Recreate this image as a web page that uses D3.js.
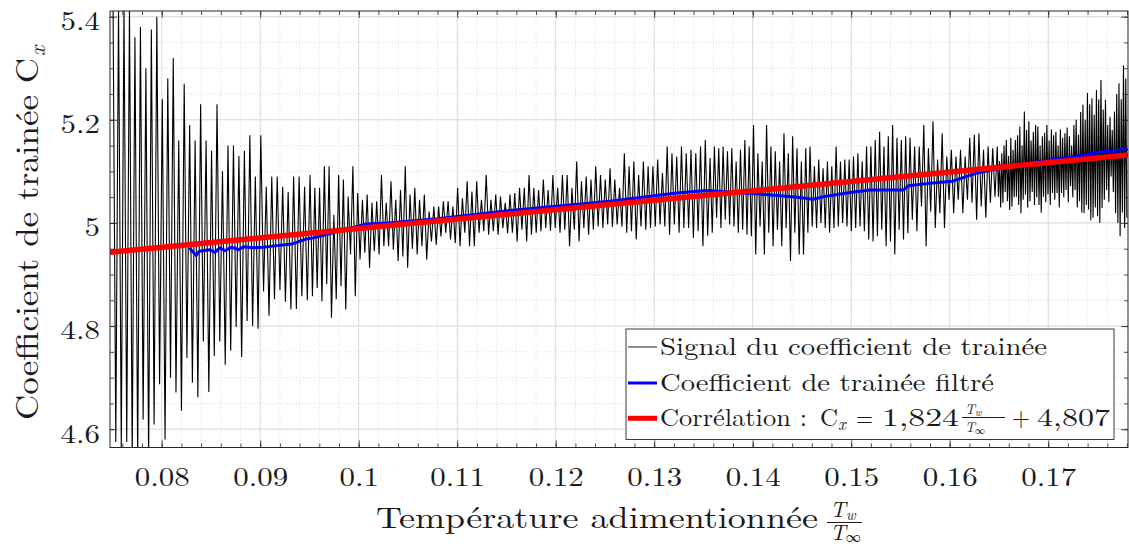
<!DOCTYPE html>
<html><head><meta charset="utf-8">
<script src="https://cdn.jsdelivr.net/npm/d3@7"></script>
<style>
body{margin:0;background:#fff}
svg{display:block}
</style></head>
<body>
<svg id="chart" width="1129" height="547"></svg>
<script>
// ---------------- DATA ----------------
const xMajorTicks = [0.08,0.09,0.10,0.11,0.12,0.13,0.14,0.15,0.16,0.17];
const xTickLabels = ["0.08","0.09","0.1","0.11","0.12","0.13","0.14","0.15","0.16","0.17"];
const yMajorTicks = [4.6,4.8,5.0,5.2,5.4];
const yTickLabels = ["4.6","4.8","5","5.2","5.4"];

// raw signal: region boundaries (x), cycles per region, peak & trough of each cycle
const signalBreaks = [0.07506,0.09506,0.11536,0.13567,0.15597,0.16483,0.17810];
const signalCycles = [36,42,42,46,19,58];
const signalPeaks = [
 5.42,5.42,5.42,5.42,5.36,5.38,5.30,5.375,5.40,5.24,5.28,5.32,5.16,5.27,5.19,5.16,5.23,5.16,5.14,5.23,
 5.10,5.15,5.15,5.13,5.14,5.17,5.09,5.17,5.07,5.09,5.09,5.07,5.06,5.09,5.09,5.07,
 5.093,5.068,5.068,5.110,5.110,5.016,5.093,5.084,5.051,5.110,5.058,5.045,5.055,5.039,5.042,5.093,5.039,5.081,5.045,5.064,
 5.110,5.055,5.068,5.045,5.055,5.022,5.032,5.032,5.042,5.042,5.032,5.068,5.048,5.081,5.061,5.081,5.045,5.093,5.045,5.055,5.051,5.039,
 5.055,5.058,5.068,5.068,5.093,5.068,5.064,5.084,5.064,5.093,5.068,5.093,5.093,5.068,5.119,5.081,5.090,5.084,5.110,5.093,
 5.084,5.106,5.084,5.068,5.135,5.110,5.119,5.093,5.119,5.110,5.110,5.123,5.097,5.148,5.135,5.129,5.148,5.135,5.142,5.135,5.148,5.161,
 5.126,5.148,5.145,5.148,5.139,5.145,5.119,5.142,5.161,5.148,5.190,5.135,5.119,5.190,5.148,5.139,5.119,5.174,5.135,5.168,
 5.145,5.119,5.145,5.148,5.110,5.123,5.106,5.119,5.110,5.148,5.119,5.123,5.123,5.129,5.135,5.119,5.148,5.148,5.161,5.177,
 5.148,5.168,5.190,5.165,5.161,5.168,
 5.165,5.148,5.148,5.190,5.145,5.197,5.123,5.174,5.129,5.142,5.129,5.142,5.129,5.165,5.171,5.174,5.142,5.148,5.145,
 5.148,5.120,5.135,5.150,5.161,5.130,5.165,5.142,5.161,5.170,5.187,5.150,5.216,5.180,5.197,5.160,5.177,5.190,5.187,5.150,
 5.168,5.175,5.190,5.160,5.181,5.170,5.177,5.150,5.181,5.165,5.174,5.185,5.168,5.150,5.190,5.200,5.171,5.215,5.229,5.200,
 5.252,5.230,5.242,5.210,5.258,5.240,5.277,5.220,5.239,5.190,5.206,5.180,5.216,5.250,5.271,5.240,5.306,5.280
];
const signalTroughs = [
 4.575,4.565,4.575,4.54,4.54,4.619,4.54,4.609,4.687,4.58,4.70,4.671,4.636,4.738,4.69,4.662,4.77,4.672,4.742,4.77,
 4.725,4.752,4.798,4.74,4.81,4.80,4.795,4.867,4.82,4.852,4.87,4.847,4.832,4.833,4.858,4.85,
 4.858,4.874,4.848,4.881,4.816,4.852,4.877,4.832,4.939,4.858,4.929,4.942,4.913,4.945,4.939,4.955,4.955,4.948,4.926,4.935,
 4.913,4.950,4.939,4.955,4.929,4.964,4.958,4.974,4.981,4.968,4.961,4.955,4.981,4.955,4.955,4.981,4.984,4.977,4.984,4.977,4.990,4.980,
 4.981,4.964,4.987,4.964,4.977,4.981,4.984,4.990,4.985,4.990,4.981,4.987,4.955,4.987,4.964,4.990,4.977,4.987,4.993,4.990,
 4.997,4.992,4.997,4.993,4.981,4.984,4.968,4.993,4.987,4.990,4.993,4.997,4.993,4.977,4.997,4.981,4.990,4.990,4.971,4.984,4.955,4.975,
 4.981,5.010,4.990,5.006,4.997,4.993,4.981,4.987,4.977,4.974,4.939,4.993,4.939,4.981,4.955,4.987,4.955,4.990,4.926,4.981,
 4.939,4.939,4.981,4.993,4.990,5.000,4.990,4.981,4.990,4.993,5.000,4.993,4.984,4.990,4.993,4.984,4.968,4.964,4.974,4.987,
 4.955,4.964,4.939,4.987,4.968,4.980,
 5.006,4.984,5.032,4.955,5.022,4.990,5.019,4.990,5.045,5.019,5.045,5.019,5.045,5.039,5.006,5.032,5.010,5.039,5.051,
 5.051,5.030,5.039,5.060,5.042,5.025,5.032,5.050,5.051,5.035,5.019,5.045,5.055,5.030,5.042,5.060,5.035,5.050,5.035,5.020,
 5.051,5.040,5.055,5.035,5.058,5.045,5.058,5.030,5.058,5.050,5.064,5.040,5.071,5.050,5.064,5.030,5.042,5.020,5.019,5.035,
 5.026,5.005,5.010,5.030,5.013,5.000,5.029,5.045,5.064,5.040,5.090,5.060,5.019,5.000,4.974,5.020,4.990,5.010
];

// filtered coefficient (blue)
const filteredX = [0.0828,0.0835,0.0838,0.0849,0.0854,0.0859,0.0864,0.0871,0.0878,0.0883,0.0893,0.0903,0.0917,0.0932,0.0947,
 0.0954,0.0974,0.1008,0.1030,0.1080,0.1154,0.1255,0.1323,0.1353,0.1390,0.1407,0.1425,0.1445,0.1461,0.1475,0.1499,0.1519,
 0.1553,0.1558,0.1580,0.1603,0.1628,0.1661,0.1695,0.1729,0.1750,0.1760,0.1766,0.1776,0.1781];
const filteredY = [4.952,4.937,4.945,4.948,4.943,4.952,4.946,4.953,4.948,4.954,4.952,4.953,4.956,4.959,4.969,
 4.971,4.981,4.998,5.000,5.008,5.024,5.042,5.058,5.063,5.058,5.056,5.053,5.050,5.046,5.052,5.059,5.064,
 5.064,5.072,5.077,5.081,5.097,5.110,5.120,5.130,5.136,5.140,5.137,5.145,5.142];

// correlation line (red)
const corrX = [0.07475,0.1781];
const corrY = [4.9433,5.1318];

const legendLabels = ["Signal du coefficient de trainée","Coefficient de trainée filtré","Corrélation :"];

// ---------------- FONT PICK (first installed serif) ----------------
function fontAvailable(name){
  const ctx = document.createElement("canvas").getContext("2d");
  const s = "mmmmmmmmmwwwlli 0.08 Coefficient";
  return ["monospace","sans-serif"].some(base=>{
    ctx.font = "40px " + base; const w0 = ctx.measureText(s).width;
    ctx.font = `40px "${name}", ${base}`; const w1 = ctx.measureText(s).width;
    return Math.abs(w1-w0) > 0.5;
  });
}
const serifCandidates = ["Latin Modern Roman","CMU Serif","Liberation Serif","DejaVu Serif","Noto Serif","Tinos",
  "Times New Roman","TeX Gyre Termes","Nimbus Roman","FreeSerif","Georgia","Times"];
const picked = serifCandidates.find(fontAvailable);
const FONT = picked ? `"${picked}", serif` : "serif";

// ---------------- CHART ----------------
const svg = d3.select("#chart");
const P = {l:110, r:1128, t:11, b:447.5};
const x = d3.scaleLinear().domain([0.07475,0.1781]).range([P.l,P.r]);
const y = d3.scaleLinear().domain([4.5645,5.411]).range([P.b,P.t]);
const AX = "#262626", TX = "#1a1a1a";

svg.append("defs").append("clipPath").attr("id","clip")
  .append("rect").attr("x",P.l).attr("y",P.t).attr("width",P.r-P.l).attr("height",P.b-P.t);

// grid
const minorX = x.ticks(50), minorY = y.ticks(17);
const grid = svg.append("g");
grid.selectAll(".mx").data(minorX).join("line")
  .attr("x1",d=>x(d)).attr("x2",d=>x(d)).attr("y1",P.t).attr("y2",P.b)
  .attr("stroke","#cfcfcf").attr("stroke-width",0.7).attr("stroke-dasharray","1,2");
grid.selectAll(".my").data(minorY).join("line")
  .attr("y1",d=>y(d)).attr("y2",d=>y(d)).attr("x1",P.l).attr("x2",P.r)
  .attr("stroke","#cfcfcf").attr("stroke-width",0.7).attr("stroke-dasharray","1,2");
grid.selectAll(".gx").data(xMajorTicks).join("line")
  .attr("x1",d=>x(d)).attr("x2",d=>x(d)).attr("y1",P.t).attr("y2",P.b)
  .attr("stroke","#dcdcdc").attr("stroke-width",1);
grid.selectAll(".gy").data(yMajorTicks).join("line")
  .attr("y1",d=>y(d)).attr("y2",d=>y(d)).attr("x1",P.l).attr("x2",P.r)
  .attr("stroke","#dcdcdc").attr("stroke-width",1);

// signal points
const sig = [];
let k = 0;
signalCycles.forEach((n,r)=>{
  const a = signalBreaks[r], b = signalBreaks[r+1], st = (b-a)/n;
  for(let j=0;j<n;j++,k++){
    sig.push([a+j*st, signalPeaks[k]]);
    sig.push([a+(j+0.5)*st, signalTroughs[k]]);
  }
});
const line = d3.line().x(d=>x(d[0])).y(d=>y(d[1]));
const data = svg.append("g").attr("clip-path","url(#clip)");
data.append("path").attr("d",line(sig)).attr("fill","none")
  .attr("stroke","#000").attr("stroke-width",1.1).attr("stroke-linejoin","miter");
data.append("path").attr("d",line(filteredX.map((v,i)=>[v,filteredY[i]]))).attr("fill","none")
  .attr("stroke","#0000ff").attr("stroke-width",3).attr("stroke-linejoin","round");
data.append("path").attr("d",line(corrX.map((v,i)=>[v,corrY[i]]))).attr("fill","none")
  .attr("stroke","#ff0000").attr("stroke-width",5.5);

// axes
function styleAxis(g){ g.select(".domain").remove(); g.selectAll(".tick line").attr("stroke",AX).attr("stroke-width",0.8); }
svg.append("g").attr("transform",`translate(0,${P.b})`)
  .call(d3.axisBottom(x).tickValues(minorX).tickSize(-4).tickFormat("")).call(styleAxis);
svg.append("g").attr("transform",`translate(0,${P.t})`)
  .call(d3.axisTop(x).tickValues(minorX).tickSize(-4).tickFormat("")).call(styleAxis);
svg.append("g").attr("transform",`translate(${P.l},0)`)
  .call(d3.axisLeft(y).tickValues(minorY).tickSize(-4).tickFormat("")).call(styleAxis);
svg.append("g").attr("transform",`translate(${P.r},0)`)
  .call(d3.axisRight(y).tickValues(minorY).tickSize(-4).tickFormat("")).call(styleAxis);

const xb = svg.append("g").attr("transform",`translate(0,${P.b})`)
  .call(d3.axisBottom(x).tickValues(xMajorTicks).tickSize(-7).tickPadding(0).tickFormat((d,i)=>xTickLabels[i]))
  .call(styleAxis);
svg.append("g").attr("transform",`translate(0,${P.t})`)
  .call(d3.axisTop(x).tickValues(xMajorTicks).tickSize(-7).tickFormat("")).call(styleAxis);
const yl = svg.append("g").attr("transform",`translate(${P.l},0)`)
  .call(d3.axisLeft(y).tickValues(yMajorTicks).tickSize(-7).tickPadding(10).tickFormat((d,i)=>yTickLabels[i]))
  .call(styleAxis);
svg.append("g").attr("transform",`translate(${P.r},0)`)
  .call(d3.axisRight(y).tickValues(yMajorTicks).tickSize(-7).tickFormat("")).call(styleAxis);

function fitW(sel,wFor){ sel.each(function(){ d3.select(this).attr("textLength",wFor(this.textContent)).attr("lengthAdjust","spacingAndGlyphs"); }); }
const digitW = s => s.length*15.5 - (s.includes(".")?7:0);
// x tick labels: baseline 39 px under the axis
xb.selectAll(".tick text").attr("font-family",FONT).attr("font-size",26).attr("fill",TX)
  .attr("y",38.5).attr("dy",null).call(fitW,digitW);
// y tick labels: baseline 12.8 px under the tick
yl.selectAll(".tick text").attr("font-family",FONT).attr("font-size",26).attr("fill",TX)
  .attr("dy",null).attr("y",12.8).call(fitW,digitW);

svg.append("rect").attr("x",P.l).attr("y",P.t).attr("width",P.r-P.l).attr("height",P.b-P.t)
  .attr("fill","none").attr("stroke",AX).attr("stroke-width",1);

// text helper
function txt(g,s,xx,yy,size,opts={}){
  const t=g.append("text").attr("x",xx).attr("y",yy).attr("font-size",size)
    .attr("font-family",FONT).attr("fill",TX).text(s);
  if(opts.italic) t.attr("font-style","italic");
  if(opts.anchor) t.attr("text-anchor",opts.anchor);
  if(opts.len) t.attr("textLength",opts.len).attr("lengthAdjust","spacingAndGlyphs");
  return t;
}
function withSub(g,base,sub,xx,yy,size,subSize,shift,baseItalic){
  const t=g.append("text").attr("x",xx).attr("y",yy).attr("font-size",size)
    .attr("font-family",FONT).attr("fill",TX);
  const b=t.append("tspan").text(base); if(baseItalic) b.attr("font-style","italic");
  const s=t.append("tspan").attr("dy",shift).attr("font-size",subSize).text(sub);
  if(sub!=="∞") s.attr("font-style","italic");
  return t;
}
// x label
txt(svg,"Température adimentionnée",376,527.5,30,{len:442});
withSub(svg,"T","w",830,516.5,22,15,3,true);
svg.append("line").attr("x1",827).attr("x2",862).attr("y1",522.5).attr("y2",522.5).attr("stroke",TX).attr("stroke-width",1.2);
withSub(svg,"T","∞",830,539.5,22,15,2,true);

// y label
const ylab = svg.append("g").attr("transform","translate(38,420) rotate(-90)");
txt(ylab,"Coefficient de trainée C",0,0,32,{len:362});
txt(ylab,"x",364,7,22,{italic:true});

// legend
const lg = svg.append("g");
lg.append("rect").attr("x",626).attr("y",329).attr("width",488).attr("height",110.5)
  .attr("fill","#fff").attr("stroke",AX).attr("stroke-width",0.9);
lg.append("line").attr("x1",628).attr("x2",657).attr("y1",347).attr("y2",347).attr("stroke","#000").attr("stroke-width",0.9);
lg.append("line").attr("x1",628).attr("x2",657).attr("y1",383).attr("y2",383).attr("stroke","#0000ff").attr("stroke-width",3);
lg.append("line").attr("x1",628).attr("x2",657).attr("y1",418.3).attr("y2",418.3).attr("stroke","#ff0000").attr("stroke-width",5);
txt(lg,legendLabels[0],660,355,25,{len:387});
txt(lg,legendLabels[1],660,390.5,25,{len:334});
txt(lg,legendLabels[2],660,426,25,{len:147});
withSub(lg,"C","x",820,426,25,17,4,false);
txt(lg,"=",856,426,25,{len:17});
txt(lg,"1,824",882,426,25,{len:77});
withSub(lg,"T","w",965,413.5,14,10,2,true);
lg.append("line").attr("x1",962).attr("x2",1005).attr("y1",417.5).attr("y2",417.5).attr("stroke",TX).attr("stroke-width",1);
withSub(lg,"T","∞",965,432,14,10,2,true);
txt(lg,"+",1012,426,25,{len:18});
txt(lg,"4,807",1037,426,25,{len:73});
</script>
</body></html>
